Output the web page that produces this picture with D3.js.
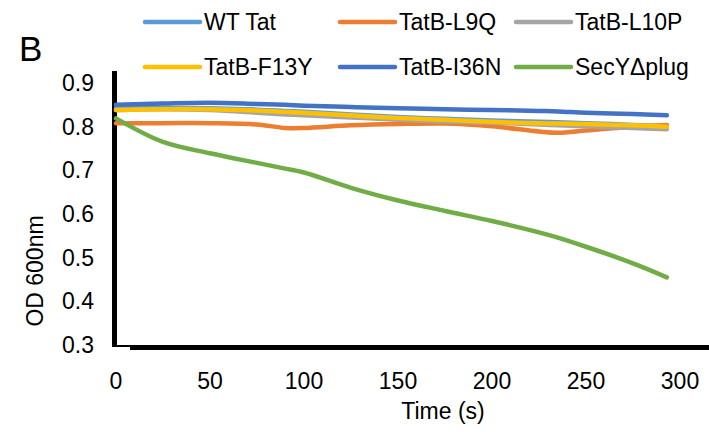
<!DOCTYPE html>
<html>
<head>
<meta charset="utf-8">
<script src="https://cdn.jsdelivr.net/npm/d3@7"></script>
<style>
  body { margin: 0; background: #fff; }
  text { font-family: "Liberation Sans", Arial, sans-serif; fill: #000; }
</style>
</head>
<body>
<script>
// time points (s) shared by all series
const times = [0, 25, 50, 75, 90, 100, 125, 150, 175, 200, 225, 235, 250, 275, 293];

const wtTat   = [0.842, 0.843, 0.842, 0.839, 0.836, 0.834, 0.828, 0.822, 0.818, 0.814, 0.811, 0.810, 0.808, 0.804, 0.801];
const tatbL9Q = [0.808, 0.808, 0.808, 0.805, 0.797, 0.797, 0.803, 0.806, 0.807, 0.801, 0.789, 0.786, 0.791, 0.800, 0.804];
const tatbL10P = [0.838, 0.840, 0.838, 0.832, 0.828, 0.826, 0.821, 0.816, 0.812, 0.809, 0.805, 0.803, 0.801, 0.797, 0.794];
const tatbF13Y = [0.838, 0.840, 0.840, 0.837, 0.834, 0.832, 0.826, 0.820, 0.816, 0.811, 0.808, 0.807, 0.806, 0.803, 0.800];
const tatbI36N = [0.850, 0.853, 0.855, 0.852, 0.850, 0.848, 0.845, 0.842, 0.840, 0.838, 0.836, 0.835, 0.832, 0.829, 0.826];
const secYplug = [0.819, 0.765, 0.739, 0.717, 0.704, 0.695, 0.660, 0.631, 0.607, 0.584, 0.558, 0.546, 0.525, 0.487, 0.455];

const seriesNames = ["WT Tat", "TatB-L9Q", "TatB-L10P", "TatB-F13Y", "TatB-I36N", "SecY\u0394plug"];
const seriesValues = [wtTat, tatbL9Q, tatbL10P, tatbF13Y, tatbI36N, secYplug];
const colors = ["#5B9BD5", "#ED7D31", "#A5A5A5", "#FFC000", "#4472C4", "#70AD47"];

const xTicks = [0, 50, 100, 150, 200, 250, 300];
const yTicks = [0.3, 0.4, 0.5, 0.6, 0.7, 0.8, 0.9];

const width = 709, height = 438;

const svg = d3.select("body").append("svg")
    .attr("width", width)
    .attr("height", height);

const x = d3.scaleLinear().domain([0, 300]).range([116, 680]);
const y = d3.scaleLinear().domain([0.3, 0.9]).range([345, 83]);

// panel letter
svg.append("text")
    .attr("x", 19).attr("y", 61)
    .style("font-size", "35px")
    .text("B");

// y tick labels
svg.append("g")
    .selectAll("text")
    .data(yTicks)
    .join("text")
    .attr("x", 94)
    .attr("y", d => y(d))
    .attr("dy", "0.35em")
    .attr("text-anchor", "end")
    .style("font-size", "23px")
    .text(d => d3.format(".1f")(d));

// x tick labels
svg.append("g")
    .selectAll("text")
    .data(xTicks)
    .join("text")
    .attr("x", d => x(d))
    .attr("y", 381)
    .attr("dy", "0.35em")
    .attr("text-anchor", "middle")
    .style("font-size", "23px")
    .text(d => d);

// axis titles
svg.append("text")
    .attr("transform", "translate(35,271) rotate(-90)")
    .attr("text-anchor", "middle")
    .attr("dy", "0.35em")
    .style("font-size", "23px")
    .text("OD 600nm");

svg.append("text")
    .attr("x", 443).attr("y", 411)
    .attr("text-anchor", "middle")
    .attr("dy", "0.35em")
    .style("font-size", "23px")
    .text("Time (s)");

// axis lines (thick, excel style)
svg.append("line")
    .attr("x1", 114.5).attr("x2", 114.5)
    .attr("y1", 71).attr("y2", 347)
    .attr("stroke", "#000").attr("stroke-width", 5);
svg.append("line")
    .attr("x1", 112).attr("x2", 131)
    .attr("y1", 346).attr("y2", 346)
    .attr("stroke", "#000").attr("stroke-width", 2);
svg.append("line")
    .attr("x1", 130).attr("x2", 709)
    .attr("y1", 347.5).attr("y2", 347.5)
    .attr("stroke", "#000").attr("stroke-width", 5);

// series
const line = d3.line()
    .x((d, i) => x(times[i]))
    .y(d => y(d))
    .curve(d3.curveCatmullRom.alpha(0.5));

svg.append("g")
    .selectAll("path")
    .data(seriesValues)
    .join("path")
    .attr("d", d => line(d))
    .attr("fill", "none")
    .attr("stroke", (d, i) => colors[i])
    .attr("stroke-width", 4.5)
    .attr("stroke-linecap", "round")
    .attr("stroke-linejoin", "round");

// legend, 3 columns x 2 rows
const legCols = [145, 340, 516];
const legRows = [22, 67];
const leg = svg.append("g")
    .selectAll("g")
    .data(seriesNames)
    .join("g")
    .attr("transform", (d, i) => `translate(${legCols[i % 3]},${legRows[Math.floor(i / 3)]})`);

leg.append("line")
    .attr("x1", 0).attr("x2", 55)
    .attr("stroke", (d, i) => colors[i])
    .attr("stroke-width", 4.5)
    .attr("stroke-linecap", "round");

leg.append("text")
    .attr("x", 59)
    .attr("dy", "0.35em")
    .style("font-size", "23px")
    .text(d => d);
</script>
</body>
</html>
